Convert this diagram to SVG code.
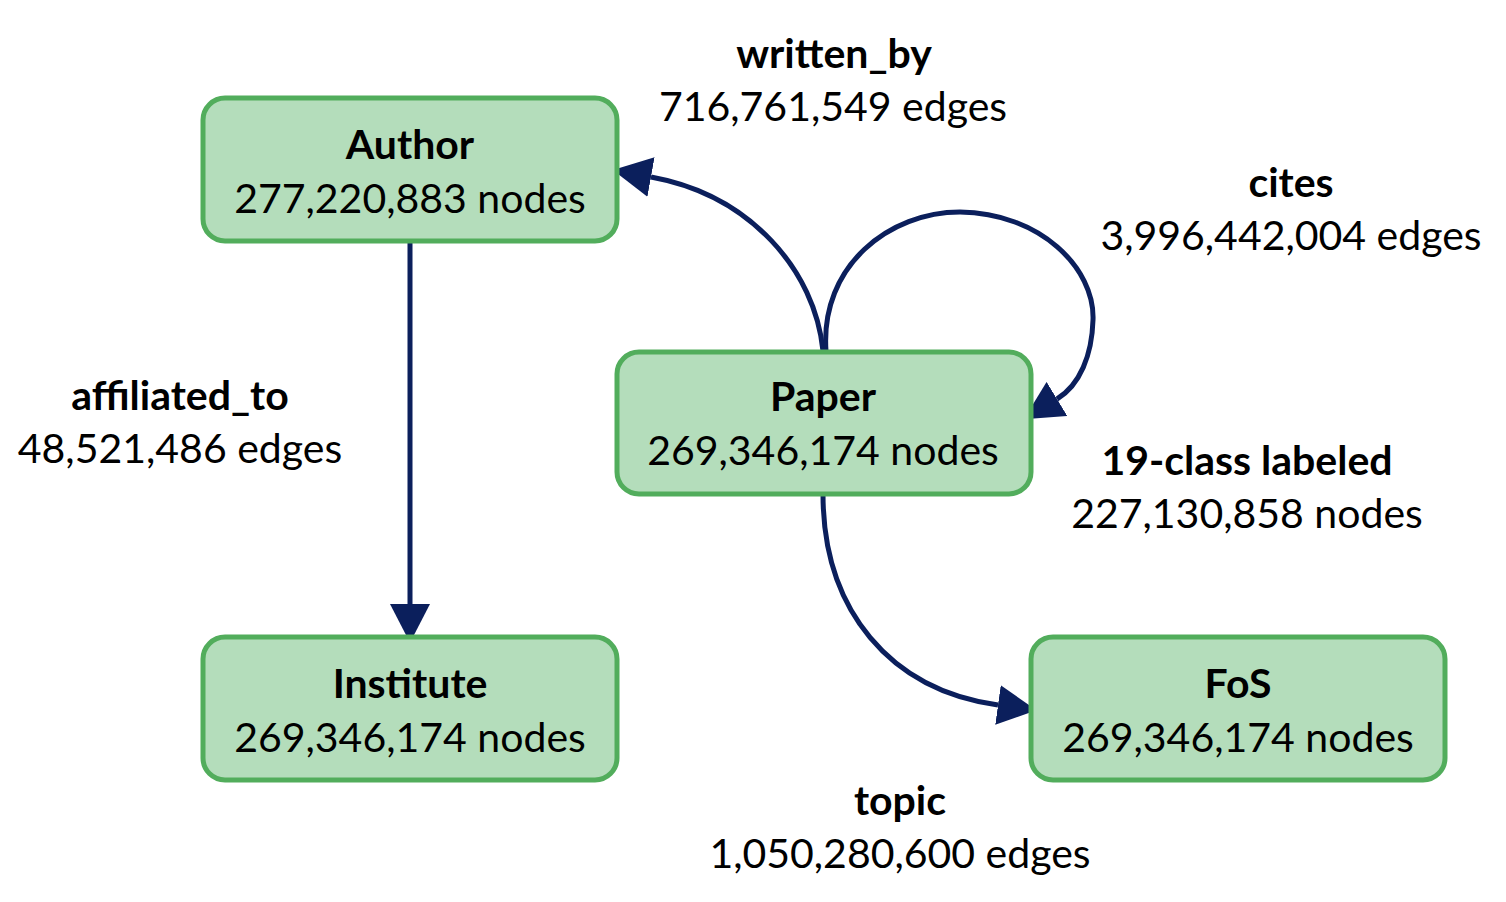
<svg xmlns="http://www.w3.org/2000/svg" width="1506" height="902" viewBox="0 0 1506 902">
<style>
.box{fill:#b4ddbb;stroke:#52ad5c;stroke-width:5}
.t{font-family:Lato,"Open Sans","DejaVu Sans",sans-serif;font-size:41px;fill:#000;text-anchor:middle}
.b{font-weight:bold}
.edge{fill:none;stroke:#0b1f5c;stroke-width:5}
</style>
<defs>
<marker id="ah" markerUnits="userSpaceOnUse" markerWidth="40" markerHeight="40" refX="0" refY="17" orient="auto" viewBox="0 0 34 34">
<path d="M0,0 L33,17 L0,34 Z" fill="#0b1f5c"/>
</marker>
</defs>
<rect width="1506" height="902" fill="#fff"/>
<g id="connectors">
<path class="edge" d="M410,241 L410,604" marker-end="url(#ah)"/>
<path class="edge" d="M823,351 C815,270 750,195 651,177" marker-end="url(#ah)"/>
<path class="edge" d="M826,351 C820,265 890,212 960,212 C1040,213 1095,268 1093,320 C1092,355 1080,385 1057,399" marker-end="url(#ah)"/>
<path class="edge" d="M823,494 C823,610 890,690 998,705" marker-end="url(#ah)"/>
</g>
<g id="author">
<rect class="box" x="203" y="98" width="414" height="143" rx="22"/>
<text class="t b" x="410" y="159">Author</text>
<text class="t" x="410" y="213">277,220,883 nodes</text>
</g>
<g id="paper">
<rect class="box" x="617" y="352" width="414" height="142" rx="22"/>
<text class="t b" x="823" y="411">Paper</text>
<text class="t" x="823" y="465">269,346,174 nodes</text>
</g>
<g id="institute">
<rect class="box" x="203" y="637" width="414" height="143" rx="22"/>
<text class="t b" x="410" y="698">Institute</text>
<text class="t" x="410" y="752">269,346,174 nodes</text>
</g>
<g id="fos">
<rect class="box" x="1031" y="637" width="414" height="143" rx="22"/>
<text class="t b" x="1238" y="698">FoS</text>
<text class="t" x="1238" y="752">269,346,174 nodes</text>
</g>
<g id="labels">
<text class="t b" x="834" y="68">written_by</text>
<text class="t" x="833" y="121">716,761,549 edges</text>
<text class="t b" x="1291" y="197">cites</text>
<text class="t" x="1291" y="250">3,996,442,004 edges</text>
<text class="t b" x="180" y="410">affiliated_to</text>
<text class="t" x="180" y="463">48,521,486 edges</text>
<text class="t b" x="1247" y="475">19-class labeled</text>
<text class="t" x="1247" y="528">227,130,858 nodes</text>
<text class="t b" x="900" y="815">topic</text>
<text class="t" x="900" y="868">1,050,280,600 edges</text>
</g>
</svg>
